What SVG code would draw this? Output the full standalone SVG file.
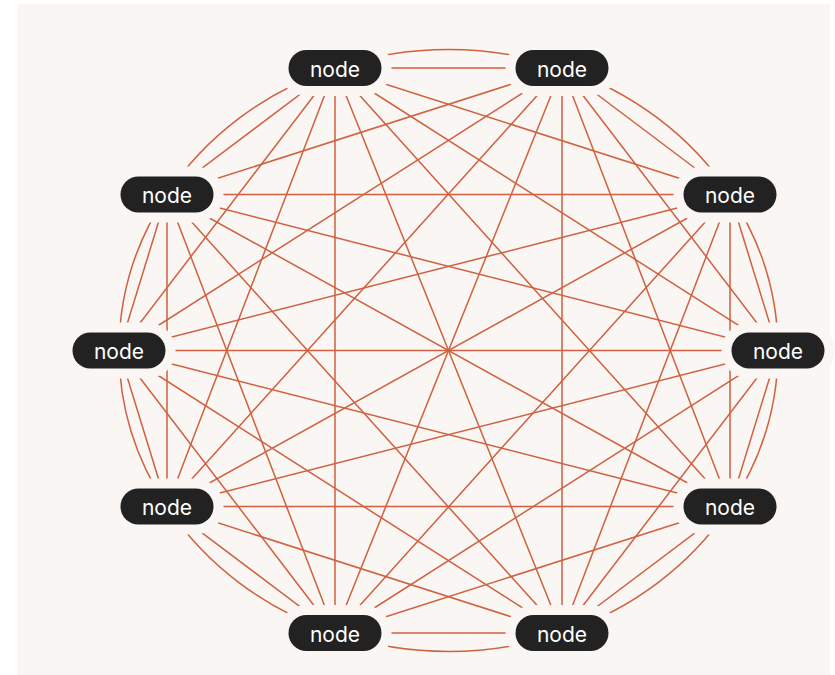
<svg xmlns="http://www.w3.org/2000/svg" width="835" height="675" viewBox="0 0 835 675">
  <defs>
    <style>
      .edge { fill: none; stroke: #d0603f; stroke-width: 1.5; }
      .halo { fill: #f9f6f3; }
      .pill { fill: #222222; }
      .label { fill: #ffffff; font-family: Inter, "Liberation Sans", sans-serif; font-size: 21px; text-anchor: middle; dominant-baseline: central; }
    </style>
  </defs>
  <rect x="0" y="0" width="835" height="675" fill="#ffffff"/>
  <rect x="17" y="4" width="813" height="671" fill="#f9f6f3"/>

  <!-- connectors: outer ring of elliptical arcs plus every straight chord -->
  <g id="connectors">
    <g id="ring">
      <path class="edge" d="M335 68 A329.5 301 0 0 1 562 68"/>
      <path class="edge" d="M562 68 A329.5 301 0 0 1 730 194.5"/>
      <path class="edge" d="M730 194.5 A329.5 301 0 0 1 778 350.5"/>
      <path class="edge" d="M778 350.5 A329.5 301 0 0 1 730 506.5"/>
      <path class="edge" d="M730 506.5 A329.5 301 0 0 1 562 633"/>
      <path class="edge" d="M562 633 A329.5 301 0 0 1 335 633"/>
      <path class="edge" d="M335 633 A329.5 301 0 0 1 167 506.5"/>
      <path class="edge" d="M167 506.5 A329.5 301 0 0 1 119 350.5"/>
      <path class="edge" d="M119 350.5 A329.5 301 0 0 1 167 194.5"/>
      <path class="edge" d="M167 194.5 A329.5 301 0 0 1 335 68"/>
    </g>
    <g id="chords">
      <path class="edge" d="M335 68L562 68M335 68L730 194.5M335 68L778 350.5M335 68L730 506.5M335 68L562 633M335 68L335 633M335 68L167 506.5M335 68L119 350.5M335 68L167 194.5"/>
      <path class="edge" d="M562 68L730 194.5M562 68L778 350.5M562 68L730 506.5M562 68L562 633M562 68L335 633M562 68L167 506.5M562 68L119 350.5M562 68L167 194.5"/>
      <path class="edge" d="M730 194.5L778 350.5M730 194.5L730 506.5M730 194.5L562 633M730 194.5L335 633M730 194.5L167 506.5M730 194.5L119 350.5M730 194.5L167 194.5"/>
      <path class="edge" d="M778 350.5L730 506.5M778 350.5L562 633M778 350.5L335 633M778 350.5L167 506.5M778 350.5L119 350.5M778 350.5L167 194.5"/>
      <path class="edge" d="M730 506.5L562 633M730 506.5L335 633M730 506.5L167 506.5M730 506.5L119 350.5M730 506.5L167 194.5"/>
      <path class="edge" d="M562 633L335 633M562 633L167 506.5M562 633L119 350.5M562 633L167 194.5"/>
      <path class="edge" d="M335 633L167 506.5M335 633L119 350.5M335 633L167 194.5"/>
      <path class="edge" d="M167 506.5L119 350.5M167 506.5L167 194.5"/>
      <path class="edge" d="M119 350.5L167 194.5"/>
    </g>
  </g>

  <!-- nodes: a background halo keeps a clear gap between the pill and the chords -->
  <g id="node-1" transform="translate(335 68)">
    <rect class="halo" x="-56.5" y="-28" width="113" height="56" rx="28"/>
    <rect class="pill" x="-46.5" y="-18" width="93" height="36" rx="18"/>
    <text class="label" x="0" y="1">node</text>
  </g>
  <g id="node-2" transform="translate(562 68)">
    <rect class="halo" x="-56.5" y="-28" width="113" height="56" rx="28"/>
    <rect class="pill" x="-46.5" y="-18" width="93" height="36" rx="18"/>
    <text class="label" x="0" y="1">node</text>
  </g>
  <g id="node-3" transform="translate(730 194.5)">
    <rect class="halo" x="-56.5" y="-28" width="113" height="56" rx="28"/>
    <rect class="pill" x="-46.5" y="-18" width="93" height="36" rx="18"/>
    <text class="label" x="0" y="1">node</text>
  </g>
  <g id="node-4" transform="translate(778 350.5)">
    <rect class="halo" x="-56.5" y="-28" width="113" height="56" rx="28"/>
    <rect class="pill" x="-46.5" y="-18" width="93" height="36" rx="18"/>
    <text class="label" x="0" y="1">node</text>
  </g>
  <g id="node-5" transform="translate(730 506.5)">
    <rect class="halo" x="-56.5" y="-28" width="113" height="56" rx="28"/>
    <rect class="pill" x="-46.5" y="-18" width="93" height="36" rx="18"/>
    <text class="label" x="0" y="1">node</text>
  </g>
  <g id="node-6" transform="translate(562 633)">
    <rect class="halo" x="-56.5" y="-28" width="113" height="56" rx="28"/>
    <rect class="pill" x="-46.5" y="-18" width="93" height="36" rx="18"/>
    <text class="label" x="0" y="1">node</text>
  </g>
  <g id="node-7" transform="translate(335 633)">
    <rect class="halo" x="-56.5" y="-28" width="113" height="56" rx="28"/>
    <rect class="pill" x="-46.5" y="-18" width="93" height="36" rx="18"/>
    <text class="label" x="0" y="1">node</text>
  </g>
  <g id="node-8" transform="translate(167 506.5)">
    <rect class="halo" x="-56.5" y="-28" width="113" height="56" rx="28"/>
    <rect class="pill" x="-46.5" y="-18" width="93" height="36" rx="18"/>
    <text class="label" x="0" y="1">node</text>
  </g>
  <g id="node-9" transform="translate(119 350.5)">
    <rect class="halo" x="-56.5" y="-28" width="113" height="56" rx="28"/>
    <rect class="pill" x="-46.5" y="-18" width="93" height="36" rx="18"/>
    <text class="label" x="0" y="1">node</text>
  </g>
  <g id="node-10" transform="translate(167 194.5)">
    <rect class="halo" x="-56.5" y="-28" width="113" height="56" rx="28"/>
    <rect class="pill" x="-46.5" y="-18" width="93" height="36" rx="18"/>
    <text class="label" x="0" y="1">node</text>
  </g>
</svg>
